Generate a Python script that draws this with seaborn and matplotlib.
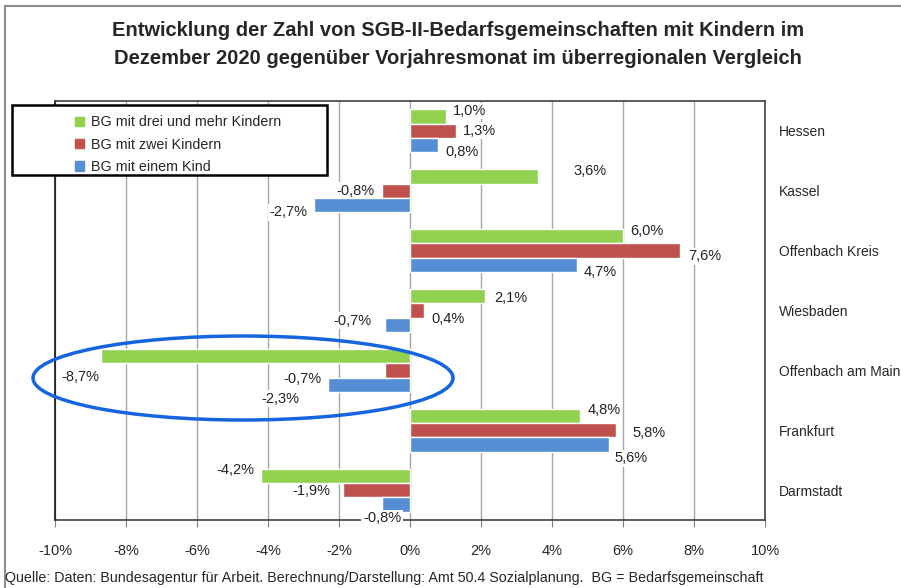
import pandas as pd
import matplotlib.pyplot as plt
import seaborn as sns
from matplotlib.patches import Ellipse, Rectangle
from matplotlib.ticker import FuncFormatter

# Data (change vs. previous year, in %)
regions = ["Hessen", "Kassel", "Offenbach Kreis", "Wiesbaden",
           "Offenbach am Main", "Frankfurt", "Darmstadt"]
series = ["BG mit drei und mehr Kindern", "BG mit zwei Kindern", "BG mit einem Kind"]
three_plus = [1.0, 3.6, 6.0, 2.1, -8.7, 4.8, -4.2]
two_kids = [1.3, -0.8, 7.6, 0.4, -0.7, 5.8, -1.9]
one_kid = [0.8, -2.7, 4.7, -0.7, -2.3, 5.6, -0.8]
colors = ["#92D050", "#C0504D", "#558ED5"]
x_ticks = [-10, -8, -6, -4, -2, 0, 2, 4, 6, 8, 10]

rows = []
for name, vals in zip(series, [three_plus, two_kids, one_kid]):
    for reg, v in zip(regions, vals):
        rows.append({"Region": reg, "Gruppe": name, "Wert": v})
df = pd.DataFrame(rows)

sns.set_style("white")
plt.rcParams["font.family"] = ["Liberation Sans", "DejaVu Sans"]

fig = plt.figure(figsize=(9.01, 5.88), dpi=100)
ax = fig.add_axes([55 / 901, 1 - 520 / 588, 710 / 901, 419 / 588])

sns.barplot(data=df, y="Region", x="Wert", hue="Gruppe", order=regions,
            hue_order=series, palette=colors, orient="h", width=0.72,
            saturation=1, legend=False, ax=ax)

# data labels, german decimal comma; default offset per series,
# a few labels were moved by hand in the original (points)
dys = [4, 0, -5]
moved = {
    (0, "Kassel"): (26, 4),
    (1, "Offenbach Kreis"): (6, -4),
    (0, "Wiesbaden"): (7, -1),
    (1, "Wiesbaden"): (5, -6),
    (2, "Wiesbaden"): (-10, 3),
    (0, "Offenbach am Main"): (-1, -15),
    (1, "Offenbach am Main"): (-46, -6),
    (2, "Offenbach am Main"): (-21, -10),
    (1, "Frankfurt"): (12, -2),
    (2, "Frankfurt"): (4, -10),
    (1, "Darmstadt"): (-9, -1),
    (2, "Darmstadt"): (14, -10),
}
for i, cont in enumerate(ax.containers):
    for bar, reg, v in zip(cont, regions, [three_plus, two_kids, one_kid][i]):
        y = bar.get_y() + bar.get_height() / 2
        txt = f"{v:.1f}%".replace(".", ",")
        off = moved.get((i, reg), (5 if v >= 0 else -5, dys[i]))
        ax.annotate(txt, (v, y), xytext=off,
                    textcoords="offset points", va="center",
                    ha="left" if v >= 0 else "right", fontsize=10.5,
                    color="#222222", zorder=4, annotation_clip=False,
                    bbox=dict(boxstyle="square,pad=0.1", fc="white", ec="none"))

ax.set_xlim(-10, 10)
ax.set_xticks(x_ticks)
ax.xaxis.set_major_formatter(FuncFormatter(lambda v, p: f"{v:.0f}%"))
ax.tick_params(axis="x", which="major", bottom=True, length=5, width=0.8,
               color="#808080", labelsize=10.5, pad=12)
ax.grid(axis="x", color="#A6A6A6", linewidth=1)
ax.set_axisbelow(True)

ax.yaxis.tick_right()
ax.tick_params(axis="y", length=0, pad=10, labelsize=10)
ax.set_xlabel("")
ax.set_ylabel("")
for side, sp in ax.spines.items():
    sp.set_visible(True)
    sp.set_color("#404040")
    sp.set_linewidth(1.2)
ax.spines["left"].set_color("#111111")

# title
fig.text(0.508, 1 - 45 / 588,
         "Entwicklung der Zahl von SGB-II-Bedarfsgemeinschaften mit Kindern im\n"
         "Dezember 2020 gegenüber Vorjahresmonat im überregionalen Vergleich",
         ha="center", va="center", fontsize=14.5, fontweight="bold",
         linespacing=1.6)

# source line
fig.text(5 / 901, 1 - 578 / 588,
         "Quelle: Daten: Bundesagentur für Arbeit. Berechnung/Darstellung: "
         "Amt 50.4 Sozialplanung.  BG = Bedarfsgemeinschaft",
         ha="left", va="center", fontsize=10.3)

# legend in its own box
fig.patches.append(Rectangle((12 / 901, 1 - 175 / 588), 315 / 901, 70 / 588,
                             transform=fig.transFigure, facecolor="white",
                             edgecolor="black", linewidth=1.8, zorder=5))
handles = [Rectangle((0, 0), 1, 1, color=c) for c in colors]
fig.legend(handles, series, loc="upper left",
           bbox_to_anchor=(64 / 901, 1 - 104 / 588), frameon=False,
           fontsize=10.3, handlelength=0.6, handleheight=0.6,
           handletextpad=0.5, labelspacing=0.58, borderpad=0.3)

# highlight ellipse
fig.patches.append(Ellipse((243 / 901, 1 - 378 / 588), 420 / 901, 84 / 588,
                           transform=fig.transFigure, fill=False,
                           edgecolor="#1565E0", linewidth=2.5, zorder=6))

# outer frame
fig.patches.append(Rectangle((5 / 901, -0.02), 1.0, 1 - 6 / 588 + 0.02,
                             transform=fig.transFigure, fill=False,
                             edgecolor="#8C8C8C", linewidth=1.5))

fig.savefig("out.png", dpi=100)
